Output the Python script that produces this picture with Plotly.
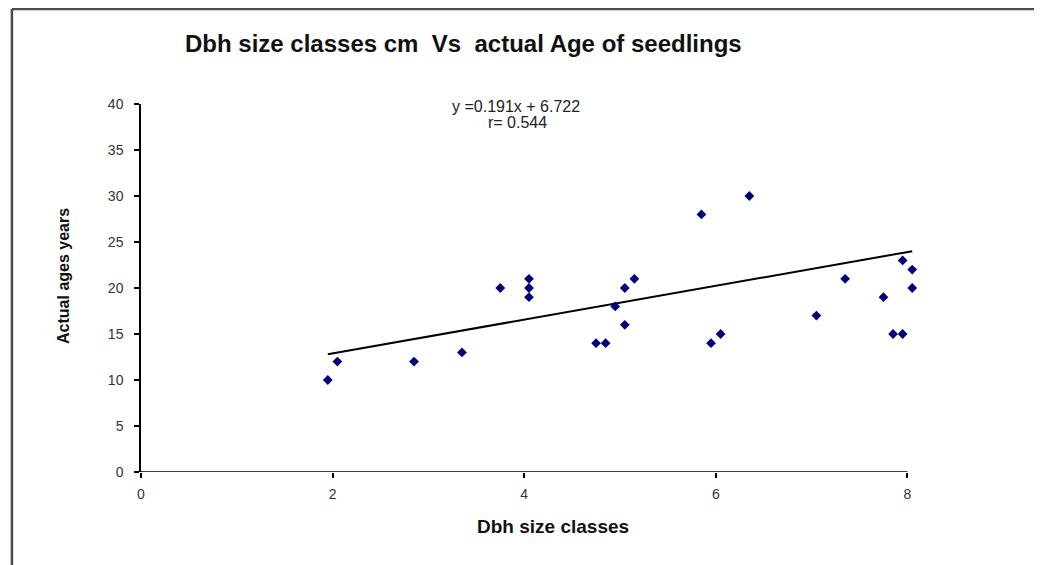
import plotly.graph_objects as go

# ---- data ----
dbh_class = [1.95, 2.05, 2.85, 3.35, 3.75, 4.05, 4.05, 4.05, 4.75, 4.85, 4.95, 5.05, 5.05,
             5.15, 5.85, 5.95, 6.05, 6.35, 7.05, 7.35, 7.75, 7.85, 7.95, 7.95, 8.05, 8.05]
actual_age = [10, 12, 12, 13, 20, 21, 20, 19, 14, 14, 18, 20, 16,
              21, 28, 14, 15, 30, 17, 21, 19, 15, 15, 23, 22, 20]
trend_x = [1.95, 8.05]
trend_y = [12.8, 24.0]
x_ticks = [0, 2, 4, 6, 8]
y_ticks = [0, 5, 10, 15, 20, 25, 30, 35, 40]
x_axis_end = 8

# page body adds an 8px offset, so figure pixel = screen pixel - 8
OFF = 8
W, H = 1042 - OFF, 565 - OFF
X_MAX = 8.1
L = 141 - OFF
T = 104 - OFF
B = 472 - OFF
UNIT = (907 - 141) / 8.0
R = L + X_MAX * UNIT


def px(xs):
    return (xs - OFF - L) / (R - L)


def py(ys):
    return (B - (ys - OFF)) / (B - T)


fig = go.Figure()
fig.add_trace(go.Scatter(
    x=trend_x, y=trend_y, mode="lines",
    line=dict(color="black", width=2), hoverinfo="skip", showlegend=False))
fig.add_trace(go.Scatter(
    x=dbh_class, y=actual_age, mode="markers",
    marker=dict(symbol="diamond", size=7.5, color="#00007f"),
    cliponaxis=False, showlegend=False))

fig.update_layout(
    width=W, height=H,
    margin=dict(l=L, r=W - R, t=T, b=H - B, pad=0),
    paper_bgcolor="white", plot_bgcolor="white",
    font=dict(family="Liberation Sans, Arial, sans-serif", color="#222"),
    showlegend=False,
    xaxis=dict(range=[0, X_MAX], tickvals=x_ticks, showgrid=False, zeroline=False,
               showline=False,
               ticks="outside", ticklen=5, tickcolor="black", tickwidth=1.5,
               tickfont=dict(family="Liberation Sans Narrow, Liberation Sans, sans-serif",
                             size=14, color="#333"),
               ticklabelstandoff=4),
    yaxis=dict(range=[0, 40], tickvals=y_ticks, showgrid=False, zeroline=False,
               showline=True, linecolor="black", linewidth=1.5,
               ticks="outside", ticklen=5, tickcolor="black", tickwidth=1.5,
               tickfont=dict(family="Liberation Sans, sans-serif", size=14, color="#333"),
               ticklabelstandoff=8),
    annotations=[
        dict(text="Dbh size classes cm\u00a0\u00a0Vs\u00a0\u00a0actual Age of seedlings",
             x=px(463), y=py(44), xref="paper", yref="paper",
             xanchor="center", yanchor="middle", showarrow=False,
             font=dict(family="Liberation Sans, Arial, sans-serif", size=24,
                       color="#111", weight="bold")),
        dict(text="Dbh size classes", x=px(553), y=py(526), xref="paper", yref="paper",
             xanchor="center", yanchor="middle", showarrow=False,
             font=dict(family="Liberation Sans, Arial, sans-serif", size=19,
                       color="#111", weight="bold")),
        dict(text="Actual ages years", x=px(63), y=py(276), xref="paper", yref="paper",
             xanchor="center", yanchor="middle", showarrow=False, textangle=-90,
             font=dict(family="Liberation Sans, Arial, sans-serif", size=16,
                       color="#111", weight="bold")),
        dict(text="y =0.191x + 6.722", x=px(516), y=py(106), xref="paper", yref="paper",
             xanchor="center", yanchor="middle", showarrow=False,
             font=dict(family="Liberation Sans, Arial, sans-serif", size=16, color="#222")),
        dict(text="r= 0.544", x=px(517), y=py(123), xref="paper", yref="paper",
             xanchor="center", yanchor="middle", showarrow=False,
             font=dict(family="Liberation Sans, Arial, sans-serif", size=16, color="#222")),
    ],
    shapes=[
        # x axis line, drawn only from 0 to the last tick
        dict(type="line", xref="x", yref="y", x0=0, x1=x_axis_end, y0=0, y1=0,
             line=dict(color="black", width=1.5), layer="below"),
        # outer frame (top and left edges)
        dict(type="line", xref="paper", yref="paper", x0=px(12), x1=px(1050),
             y0=py(9), y1=py(9), line=dict(color="#4a4a4a", width=2.5)),
        dict(type="line", xref="paper", yref="paper", x0=px(12), x1=px(12),
             y0=py(9), y1=py(575), line=dict(color="#4a4a4a", width=2.5)),
    ],
)

fig.write_html("out.html")
